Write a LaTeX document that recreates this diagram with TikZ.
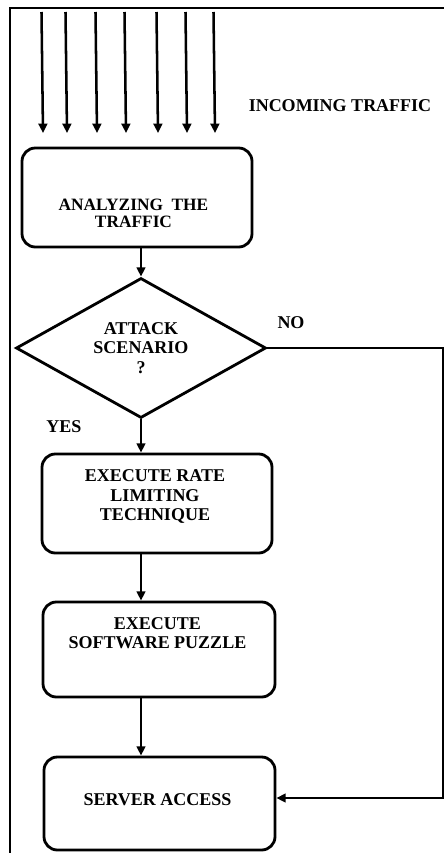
\documentclass[tikz,border=0pt]{standalone}
\usepackage{fontspec}
\setmainfont{Liberation Serif}
\usetikzlibrary{arrows.meta,shapes.geometric}

\tikzset{
  flowbox/.style={draw, line width=2.1pt, rounded corners=10pt, inner sep=0pt},
  flowtext/.style={align=center, inner sep=0.75pt, font=\bfseries\fontsize{13.5}{14.6}\selectfont},
  arr/.style={line width=1.9pt, -{Triangle[length=7pt,width=6.5pt]}}
}

\begin{document}
\begin{tikzpicture}[x=0.75pt,y=0.75pt,yscale=-1,xscale=1]
    \useasboundingbox (0,0) rectangle (444,853);

    %Frame
    \draw [line width=1.6pt] (10,853) -- (10,8) -- (444,8) ;

    %Incoming Lines
    \foreach \i/\x in {1/43,2/67,3/97,4/126,5/158,6/187,7/215} {
      \coordinate (src\i) at (\x-1.5,12) ;
      \coordinate (dst\i) at (\x,133) ;
      \draw [arr] (src\i) -- (dst\i) ;
    }

    %Shape: Rounded Rect [id:analyze]
    \node [flowbox, minimum width=172.5pt, minimum height=74.25pt] (analyze) at (137,197.5) {} ;
    %Shape: Diamond [id:attack]
    \node [draw, diamond, line width=2.1pt, aspect=1.77, inner sep=0pt, minimum width=187.5pt, minimum height=105pt, flowtext] (attack) at (141,348) {ATTACK\\SCENARIO\\?} ;
    %Shape: Rounded Rect [id:rate]
    \node [flowbox, minimum width=172.5pt, minimum height=74.25pt] (rate) at (157,503.5) {} ;
    %Shape: Rounded Rect [id:puzzle]
    \node [flowbox, minimum width=174pt, minimum height=71.25pt] (puzzle) at (159,649.5) {} ;
    %Shape: Rounded Rect [id:server]
    \node [flowbox, minimum width=173.25pt, minimum height=69.75pt] (server) at (159.5,803.5) {} ;

    %Straight Lines
    \draw [arr] (analyze.south -| attack.north) -- (attack.north) ;
    \draw [arr] (attack.south) -- (attack.south |- rate.north) ;
    \draw [arr] (rate.south -| attack.south) -- (puzzle.north -| attack.south) ;
    \draw [arr] (puzzle.south -| attack.south) -- (server.north -| attack.south) ;
    %Straight Lines (no branch)
    \coordinate (noback) at (443,798) ;
    \draw [arr] (attack.east) -| (noback) -- (noback -| server.east) ;

    % Text Node
    \node [flowtext] (incoming) at (340,106) {INCOMING TRAFFIC} ;
    % Text Node
    \node [flowtext, font=\bfseries\fontsize{13}{12.75}\selectfont] (analyzetxt) at (133.5,213.5) {ANALYZING\ \ THE\\TRAFFIC} ;
    % Text Node
    \node [flowtext] (notxt) at (291,323) {NO} ;
    % Text Node
    \node [flowtext] (yestxt) at (64,427) {YES} ;
    % Text Node
    \node [flowtext] (ratetxt) at (155,496.5) {EXECUTE RATE\\LIMITING\\TECHNIQUE} ;
    % Text Node
    \node [flowtext] (puzzletxt) at (157.5,633) {EXECUTE\\SOFTWARE PUZZLE} ;
    % Text Node
    \node [flowtext] (servertxt) at (157.5,800) {SERVER ACCESS} ;

\end{tikzpicture}
\end{document}
